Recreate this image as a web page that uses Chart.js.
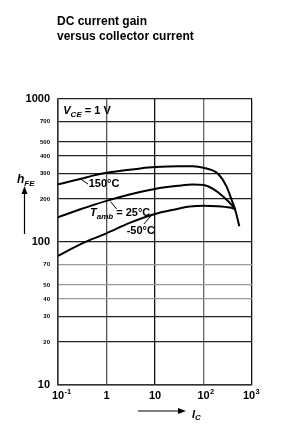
<!DOCTYPE html>
<html lang="en">
<head>
<meta charset="UTF-8">
<title>DC current gain</title>
<script src="https://cdn.jsdelivr.net/npm/chart.js@4.4.1/dist/chart.umd.min.js"></script>
<style>
  body { margin: 0; background: #fff; }
  canvas { display: block; }
</style>
</head>
<body>
<canvas id="myChart" width="308" height="429"></canvas>
<script>
    // axis ticks
    const xTicks = [0.1, 1, 10, 100, 1000];
    const xTickBase = ['10', '1', '10', '10', '10'];
    const xTickExp = ['-1', '', '', '2', '3'];
    const yTicks = [10, 20, 30, 40, 50, 70, 100, 200, 300, 400, 500, 700, 1000];
    const yTickLabels = ['10', '20', '30', '40', '50', '70', '100', '200', '300', '400', '500', '700', '1000'];

    // curves (I_C in mA, h_FE)
    const ic150 = [0.1, 0.2, 0.3, 0.5, 1, 2, 5, 10, 30, 60, 100, 150, 200, 300, 380, 446, 547];
    const hfe150 = [253, 268, 277, 290, 305, 315, 327, 334, 339, 338, 331, 318, 300, 244, 197, 170, 129];
    const ic25 = [0.1, 0.3, 1, 3, 10, 30, 60, 100, 160, 250, 380, 446];
    const hfe25 = [149, 170, 194, 215, 235, 247, 252, 250, 234, 209, 182, 170];
    const icM50 = [0.1, 0.3, 1, 3, 10, 24, 53, 100, 187, 350, 446];
    const hfeM50 = [80, 97, 115, 136, 157, 168, 177, 179, 178, 174, 170];

    function pts(xs, ys) {
        return xs.map((x, i) => ({x: x, y: ys[i]}));
    }

    function curve(xs, ys) {
        return {
            data: pts(xs, ys),
            showLine: true,
            borderColor: '#000',
            borderWidth: 2,
            pointRadius: 0,
            fill: false,
            cubicInterpolationMode: 'monotone'
        };
    }

    const grey = [40, 50, 70];
    const F = 'Liberation Sans, Arial, Helvetica, sans-serif';

    function textSub(ctx, x, y, main, sub, mainFont, subFont, drop) {
        ctx.font = mainFont;
        ctx.fillText(main, x, y);
        const w = ctx.measureText(main).width;
        ctx.font = subFont;
        ctx.fillText(sub, x + w, y + drop);
        return x + w + ctx.measureText(sub).width;
    }

    function arrowLine(ctx, x1, y1, x2, y2) {
        const a = Math.atan2(y2 - y1, x2 - x1);
        ctx.beginPath();
        ctx.moveTo(x1, y1);
        ctx.lineTo(x2 - 6 * Math.cos(a), y2 - 6 * Math.sin(a));
        ctx.stroke();
        ctx.beginPath();
        ctx.moveTo(x2, y2);
        ctx.lineTo(x2 - 8 * Math.cos(a) + 3 * Math.sin(a), y2 - 8 * Math.sin(a) - 3 * Math.cos(a));
        ctx.lineTo(x2 - 8 * Math.cos(a) - 3 * Math.sin(a), y2 - 8 * Math.sin(a) + 3 * Math.cos(a));
        ctx.closePath();
        ctx.fill();
    }

    const annotations = {
        id: 'annotations',
        afterDraw(chart) {
            const ctx = chart.ctx;
            const xs = chart.scales.x, ys = chart.scales.y;
            const px = v => xs.getPixelForValue(v);
            const py = v => ys.getPixelForValue(v);
            const bottom = chart.chartArea.bottom;
            ctx.save();
            ctx.fillStyle = '#000';
            ctx.strokeStyle = '#000';
            ctx.textBaseline = 'alphabetic';
            ctx.textAlign = 'left';

            // title
            ctx.font = 'bold 12px ' + F;
            ctx.fillText('DC current gain', 57, 25);
            ctx.fillText('versus collector current', 57, 39.5);

            // x tick labels with superscript exponents
            xTicks.forEach((v, i) => {
                ctx.font = 'bold 11px ' + F;
                const wb = ctx.measureText(xTickBase[i]).width;
                const x0 = px(v) - wb / 2 - (i === xTicks.length - 1 ? 3 : 0);
                ctx.fillText(xTickBase[i], x0, bottom + 14);
                if (xTickExp[i]) {
                    ctx.font = 'bold 7.5px ' + F;
                    ctx.fillText(xTickExp[i], x0 + wb + 0.5, bottom + 9);
                }
            });

            // V_CE = 1 V
            let e = textSub(ctx, px(0.1285), py(789), 'V', 'CE', 'italic bold 11px ' + F, 'italic bold 8px ' + F, 3);
            ctx.font = 'bold 11px ' + F;
            ctx.fillText(' = 1 V', e, py(789));

            // h_FE label with arrow
            textSub(ctx, 17, 183, 'h', 'FE', 'italic bold 12px ' + F, 'italic bold 8px ' + F, 3);
            ctx.lineWidth = 1.2;
            arrowLine(ctx, 24.5, 234, 24.5, 186);

            // I_C label with arrow
            arrowLine(ctx, 138, 411, 186, 411);
            textSub(ctx, 192, 418, 'I', 'C', 'italic bold 11px ' + F, 'italic bold 8px ' + F, 2);

            // curve labels with leaders
            ctx.lineWidth = 1;
            const leaders = [[0.298, 275, 0.416, 254], [1.2, 192, 1.62, 170], [8.55, 154.5, 5.93, 133.7]];
            leaders.forEach(l => {
                ctx.beginPath();
                ctx.moveTo(px(l[0]), py(l[1]));
                ctx.lineTo(px(l[2]), py(l[3]));
                ctx.stroke();
            });
            ctx.font = 'bold 11px ' + F;
            ctx.fillText('150\u00B0C', px(0.43), py(243));
            e = textSub(ctx, px(0.457), py(153), 'T', 'amb', 'italic bold 11px ' + F, 'italic bold 8px ' + F, 3);
            ctx.font = 'bold 11px ' + F;
            ctx.fillText(' = 25\u00B0C', e, py(153));
            ctx.fillText('-50\u00B0C', px(2.61), py(114));
            ctx.restore();
        }
    };

    const ctx = document.getElementById('myChart').getContext('2d');
    const myChart = new Chart(ctx, {
        type: 'scatter',
        data: {
            datasets: [curve(ic150, hfe150), curve(ic25, hfe25), curve(icM50, hfeM50)]
        },
        options: {
            responsive: false,
            animation: false,
            layout: {padding: {top: 99, right: 56, bottom: 0, left: 0}},
            plugins: {
                legend: {display: false},
                tooltip: {enabled: false}
            },
            scales: {
                x: {
                    type: 'logarithmic',
                    min: 0.1,
                    max: 1000,
                    afterBuildTicks: s => { s.ticks = xTicks.map(v => ({value: v})); },
                    afterFit: s => { s.height = 44; },
                    border: {display: true, color: '#333', width: 1.5},
                    grid: {
                        drawTicks: false,
                        lineWidth: 1.3,
                        color: c => {
                            const v = c.tick ? c.tick.value : 0;
                            if (v === 1) return '#555';
                            if (v === 100) return '#666';
                            return '#111';
                        }
                    },
                    ticks: {display: false}
                },
                y: {
                    type: 'logarithmic',
                    min: 10,
                    max: 1000,
                    afterBuildTicks: s => { s.ticks = yTicks.map(v => ({value: v})); },
                    afterFit: s => { s.width = 58; },
                    border: {display: true, color: '#333', width: 1.5},
                    grid: {
                        drawTicks: false,
                        lineWidth: 1.3,
                        color: c => {
                            const v = c.tick ? c.tick.value : 0;
                            return grey.includes(v) ? '#999' : '#222';
                        }
                    },
                    ticks: {
                        autoSkip: false,
                        padding: 8,
                        color: '#000',
                        font: c => {
                            const v = c.tick ? c.tick.value : 0;
                            const big = v === 10 || v === 100 || v === 1000;
                            return {family: F, size: big ? 11 : 6, weight: 'bold'};
                        },
                        callback: (v) => {
                            const i = yTicks.indexOf(v);
                            return i >= 0 ? yTickLabels[i] : '';
                        }
                    }
                }
            }
        },
        plugins: [annotations]
    });
</script>
</body>
</html>
